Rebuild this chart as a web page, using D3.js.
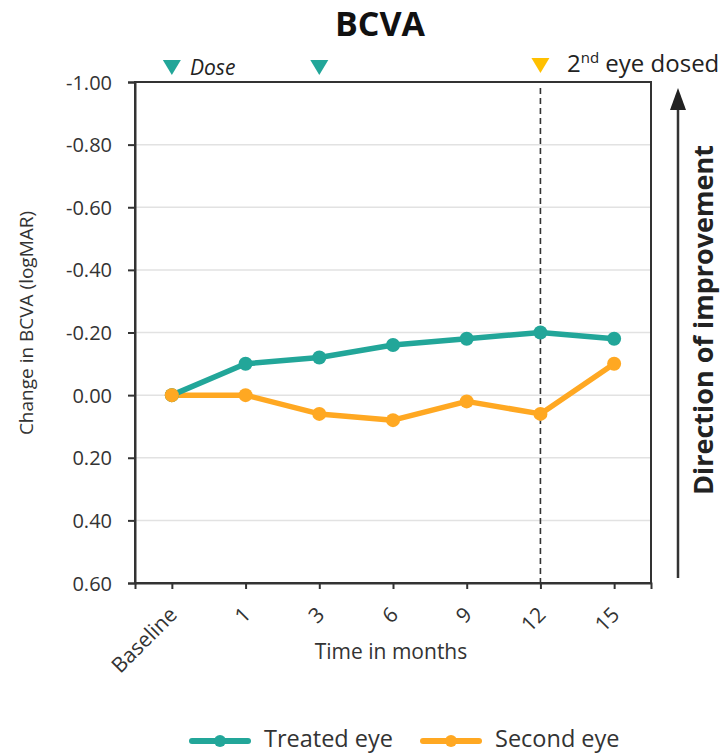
<!DOCTYPE html>
<html>
<head>
<meta charset="utf-8">
<script src="https://cdn.jsdelivr.net/npm/d3@7"></script>
<style>
  body { margin: 0; background: #fff; }
  svg { font-family: 'Open Sans', sans-serif; }
</style>
</head>
<body>
<script>
// data
const months = ['Baseline', '1', '3', '6', '9', '12', '15'];
const treatedEye = [0, -0.10, -0.12, -0.16, -0.18, -0.20, -0.18];
const secondEye = [0, 0, 0.06, 0.08, 0.02, 0.06, -0.10];
const yTicks = [-1.0, -0.8, -0.6, -0.4, -0.2, 0, 0.2, 0.4, 0.6];
const doseAt = ['Baseline', '3'];
const secondDoseAt = '12';

const teal = '#22a699', orange = '#ffa822', gold = '#ffc000', ink = '#333';

const svg = d3.select('body').append('svg').attr('width', 721).attr('height', 755);

const m = { left: 135, right: 651, top: 82, bottom: 583 };
const x = d3.scalePoint().domain(months).range([m.left, m.right]).padding(0.5);
const y = d3.scaleLinear().domain([-1, 0.6]).range([m.top, m.bottom]);

// title
svg.append('text').attr('x', 380).attr('y', 36).attr('text-anchor', 'middle')
	.style('font-size', '34px').style('font-weight', 'bold').style('fill', '#111').text('BCVA');

// grid
svg.append('g').selectAll('line').data(yTicks.slice(1)).join('line')
	.attr('x1', m.left).attr('x2', m.right)
	.attr('y1', (d) => y(d)).attr('y2', (d) => y(d))
	.style('stroke', '#e2e2e2').style('stroke-width', 1.5);

// frame
svg.append('rect').attr('x', m.left).attr('y', m.top)
	.attr('width', m.right - m.left).attr('height', m.bottom - m.top)
	.style('fill', 'none').style('stroke', ink).style('stroke-width', 2);

// y axis (hyphen minus, as in the picture)
const fmt = (d) => d3.format('.2f')(d).replace('\u2212', '-');
const yAxis = svg.append('g').attr('transform', `translate(${m.left},0)`)
	.call(d3.axisLeft(y).tickValues(yTicks).tickFormat(fmt).tickSize(7).tickPadding(16));
yAxis.select('.domain').style('stroke', ink).style('stroke-width', 2);
yAxis.selectAll('.tick line').style('stroke', ink).style('stroke-width', 2);
yAxis.selectAll('.tick text').style('font-size', '20px').style('fill', '#333')
	.style('font-family', 'Open Sans').attr('dy', '0.35em');

// x axis
const xAxis = svg.append('g').attr('transform', `translate(0,${m.bottom})`)
	.call(d3.axisBottom(x).tickSize(6).tickSizeOuter(6));
xAxis.select('.domain').style('stroke', ink).style('stroke-width', 2);
xAxis.selectAll('.tick line').style('stroke', ink).style('stroke-width', 2);
xAxis.selectAll('.tick text')
	.style('font-size', '21px').style('fill', '#333').style('font-family', 'Open Sans')
	.attr('text-anchor', 'end').attr('dy', 0).attr('y', 0)
	.attr('transform', 'translate(6,33) rotate(-45)');

// axis titles
svg.append('text').attr('transform', 'translate(33,323) rotate(-90)').attr('text-anchor', 'middle')
	.style('font-size', '19px').style('fill', '#333').text('Change in BCVA (logMAR)');
svg.append('text').attr('x', 391).attr('y', 659).attr('text-anchor', 'middle')
	.style('font-size', '21px').style('fill', '#333').text('Time in months');

// dashed line at second-eye dosing
svg.append('line').attr('x1', x(secondDoseAt)).attr('x2', x(secondDoseAt))
	.attr('y1', m.top + 6).attr('y2', m.bottom)
	.style('stroke', ink).style('stroke-width', 1.6).style('stroke-dasharray', '6,4');

// series
const line = d3.line().x((d, i) => x(months[i])).y((d) => y(d));
[[secondEye, orange], [treatedEye, teal]].forEach(([vals, col]) => {
	svg.append('path').datum(vals).attr('d', line)
		.style('fill', 'none').style('stroke', col).style('stroke-width', 5.5).style('stroke-linejoin', 'round');
	svg.append('g').selectAll('circle').data(vals).join('circle')
		.attr('cx', (d, i) => x(months[i])).attr('cy', (d) => y(d)).attr('r', 7).style('fill', col);
});
// baseline point drawn orange on top, as in the picture
svg.append('circle').attr('cx', x(months[0])).attr('cy', y(secondEye[0])).attr('r', 7).style('fill', orange);

// dose markers
const tri = (cx, top) => `M${cx - 9},${top}L${cx + 9},${top}L${cx},${top + 15}Z`;
svg.append('g').selectAll('path').data(doseAt).join('path')
	.attr('d', (d) => tri(x(d), 60)).style('fill', teal);
svg.append('text').attr('x', 190).attr('y', 75).style('font-size', '21px')
	.style('font-style', 'italic').style('fill', '#222').text('Dose');
svg.append('path').attr('d', tri(x(secondDoseAt), 58)).style('fill', gold);
const t2 = svg.append('text').attr('x', 567).attr('y', 72).style('font-size', '24px').style('fill', '#222');
t2.append('tspan').text('2');
t2.append('tspan').attr('dy', -9).style('font-size', '15px').text('nd');
t2.append('tspan').attr('dy', 9).text(' eye dosed');

// direction arrow
svg.append('line').attr('x1', 678).attr('x2', 678).attr('y1', 578).attr('y2', 100)
	.style('stroke', ink).style('stroke-width', 2.5);
svg.append('path').attr('d', 'M678,88L686,110L670,110Z').style('fill', '#222');
svg.append('text').attr('transform', 'translate(713,320) rotate(-90)').attr('text-anchor', 'middle')
	.style('font-size', '27px').style('font-weight', 'bold').style('fill', '#222').text('Direction of improvement');

// legend
const legend = [['Treated eye', teal, 192], ['Second eye', orange, 423]];
legend.forEach(([label, col, lx]) => {
	const g = svg.append('g').attr('transform', `translate(${lx},741)`);
	g.append('line').attr('x1', 0).attr('x2', 56).style('stroke', col)
		.style('stroke-width', 6).style('stroke-linecap', 'round');
	g.append('circle').attr('cx', 28).attr('r', 6).style('fill', col);
	g.append('text').attr('x', 72).attr('y', 6).style('font-size', '23.5px').style('fill', '#333').text(label);
});
</script>
</body>
</html>
